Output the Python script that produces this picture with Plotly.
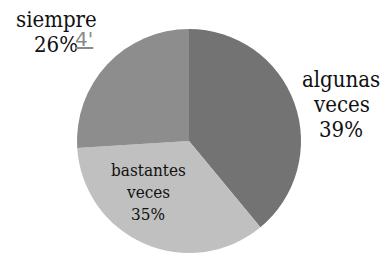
import plotly.graph_objects as go

labels = ["algunas veces", "bastantes veces", "siempre"]
values = [39, 35, 26]
colors = ["#737373", "#c0c0c0", "#8d8d8d"]
label_lines = [["algunas", "veces"], ["bastantes", "veces"], ["siempre"]]

W, H = 385, 254
FONT = "DejaVu Serif Condensed, DejaVu Serif"

fig = go.Figure(go.Pie(
    labels=labels,
    values=values,
    sort=False,
    direction="clockwise",
    rotation=0,
    marker=dict(colors=colors, line=dict(width=0)),
    textinfo="none",
    showlegend=False,
    hoverinfo="skip",
    domain=dict(x=[77 / W, 301 / W], y=[1 - 253 / H, 1 - 29 / H]),
))

total = sum(values)
# x centre, baselines of each line, font size
pos = {
    0: (341, [87, 112, 137], 22),
    1: (148, [176, 198, 220], 17),
    2: (56, [27, 52], 22),
}
for i, (px, baselines, fs) in pos.items():
    lines = label_lines[i] + [f"{round(values[i] * 100 / total)}%"]
    for line, bl in zip(lines, baselines):
        cy = bl - 0.33 * fs
        fig.add_annotation(
            x=px / W, y=1 - cy / H, xref="paper", yref="paper",
            text=line, showarrow=False, xanchor="center", yanchor="middle",
            font=dict(family=FONT, size=fs, color="#111111"),
        )

fig.add_annotation(
    x=84 / W, y=1 - 39 / H, xref="paper", yref="paper",
    text="<u>4'</u>", showarrow=False, xanchor="center", yanchor="middle",
    font=dict(family="DejaVu Sans", size=20, color="#8a8a8a"),
)

fig.update_layout(
    width=W, height=H,
    margin=dict(l=0, r=0, t=0, b=0),
    paper_bgcolor="white", plot_bgcolor="white",
)
fig.write_html("out.html", config={"displayModeBar": False},
               post_script="document.body.style.margin='0';")
